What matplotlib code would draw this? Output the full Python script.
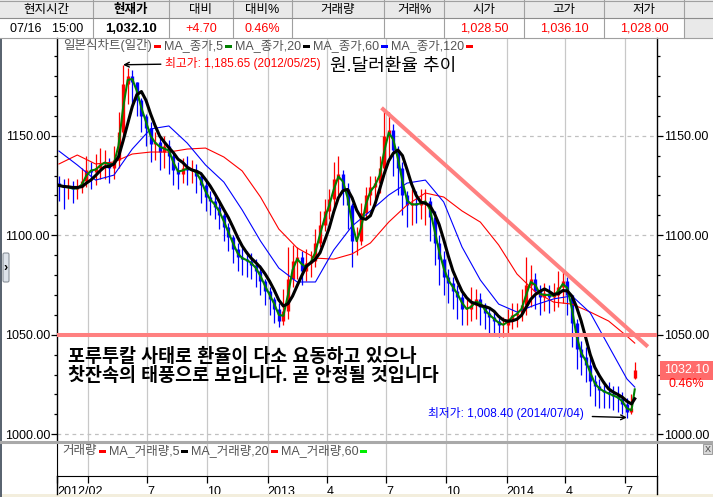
import matplotlib
matplotlib.use("Agg")
import matplotlib.pyplot as plt
import matplotlib.dates as mdates
from matplotlib.patches import Rectangle, FancyBboxPatch
from matplotlib.ticker import FormatStrFormatter
import pandas as pd

plt.rcParams['font.family'] = ['Liberation Sans', 'Noto Sans CJK KR']

W, H = 713, 497

# quote strip at the top
header_labels = ['현지시간', '현재가', '대비', '대비%', '거래량', '거래%', '시가', '고가', '저가', '']
header_values = ['07/16   15:00', '1,032.10', '+4.70', '0.46%', '', '', '1,028.50', '1,036.10', '1,028.00', '']
header_colors = ['black', 'black', 'red', 'red', 'black', 'black', 'red', 'red', 'red', 'black']
col_edges = [0, 93, 169, 233, 292, 384, 444, 524, 604, 684, 713]

day_open, day_high, day_low, last_price = 1028.50, 1036.10, 1028.00, 1032.10
last_date = '2014-07-16'
change_pct = 0.46

# weekly bars (Friday values), 2012-02-17 .. 2014-07-11
week_dates = pd.date_range('2012-02-17', '2014-07-11', freq='W-FRI')
first_open = 1126.0
week_close = [
    1125, 1124, 1124, 1123, 1124, 1127, 1133, 1132, 1134, 1136,
    1137, 1134, 1138, 1152, 1176, 1180, 1177, 1168, 1160, 1154,
    1146, 1147, 1142, 1145, 1140, 1133, 1131, 1134, 1133, 1133,
    1130, 1125, 1119, 1117, 1114, 1110, 1104, 1099, 1093, 1089,
    1088, 1087, 1085, 1082, 1077, 1072, 1068, 1063, 1057, 1062,
    1078, 1087, 1089, 1082, 1086, 1087, 1096, 1105, 1112, 1118,
    1128, 1131, 1123, 1115, 1097, 1097, 1111, 1120, 1124, 1126,
    1134, 1150, 1153, 1143, 1134, 1120, 1115, 1116, 1115, 1117,
    1117, 1109, 1096, 1088, 1079, 1076, 1072, 1069, 1063, 1063,
    1065, 1068, 1064, 1061, 1059, 1057, 1055, 1055, 1058, 1060,
    1061, 1065, 1075, 1078, 1072, 1069, 1071, 1069, 1070, 1074,
    1077, 1070, 1056, 1043, 1039, 1035, 1027, 1024, 1022, 1021,
    1020, 1019, 1018, 1015, 1011, 1013]
week_high = [
    1130, 1128, 1129, 1127, 1128, 1134, 1140, 1137, 1141, 1144,
    1143, 1139, 1145, 1162, 1185.65, 1184, 1183, 1177, 1169, 1161,
    1157, 1152, 1150, 1150, 1148, 1141, 1137, 1139, 1140, 1138,
    1136, 1131, 1127, 1122, 1120, 1116, 1111, 1106, 1100, 1096,
    1094, 1092, 1091, 1088, 1085, 1078, 1074, 1069, 1066, 1073,
    1094, 1095, 1094, 1092, 1093, 1092, 1103, 1112, 1118, 1123,
    1137, 1140, 1133, 1126, 1116, 1104, 1116, 1124, 1130, 1130,
    1140, 1163.5, 1162, 1156, 1145, 1137, 1122, 1123, 1122, 1123,
    1123, 1119, 1112, 1100, 1092, 1083, 1079, 1075, 1071, 1068,
    1074, 1073, 1071, 1066, 1064, 1062, 1060, 1059, 1063, 1066,
    1066, 1073, 1089, 1085, 1081, 1075, 1076, 1075, 1076, 1082,
    1082, 1079, 1070, 1058, 1047, 1044, 1039, 1030, 1028, 1027,
    1026, 1024, 1024, 1021, 1018, 1020]
week_low = [
    1117, 1113, 1118, 1116, 1118, 1121, 1124, 1123, 1125, 1128,
    1128, 1126, 1128, 1134, 1150, 1166, 1164, 1160, 1152, 1145,
    1137, 1138, 1133, 1134, 1131, 1125, 1123, 1126, 1125, 1126,
    1121, 1116, 1112, 1110, 1108, 1103, 1097, 1092, 1086, 1082,
    1080, 1079, 1078, 1074, 1070, 1065, 1060, 1056, 1054, 1055,
    1058, 1074, 1078, 1075, 1077, 1079, 1084, 1094, 1102, 1108,
    1113, 1120, 1115, 1103, 1084, 1090, 1095, 1108, 1115, 1118,
    1121, 1131, 1138, 1130, 1120, 1110, 1104, 1105, 1106, 1108,
    1105, 1097, 1085, 1075, 1070, 1066, 1063, 1058, 1055, 1055,
    1057, 1058, 1055, 1053, 1051, 1050, 1049, 1049, 1051, 1053,
    1054, 1057, 1060, 1064, 1063, 1060, 1062, 1061, 1062, 1064,
    1066, 1060, 1044, 1033, 1030, 1026, 1019, 1014, 1013, 1013,
    1013, 1012, 1011, 1010, 1008.4, 1010]

# 60 and 120 day averages at every 4th week plus the last day
ma60_read = [1142.3, 1135.3, 1127.7, 1130.2, 1143.3, 1153.4, 1154.9, 1146.3, 1135.3, 1126.7,
             1112.7, 1097.1, 1083.5, 1076.5, 1076.5, 1092.6, 1104.6, 1112.2, 1120.2, 1126.2,
             1127.7, 1116.7, 1094.1, 1077.5, 1065.4, 1061.4, 1065.0, 1068.0, 1069.5, 1061.0,
             1044.4, 1027.8, 1023.7]
ma120_read = [1135.8, 1140.3, 1135.8, 1136.8, 1140.8, 1141.8, 1141.8, 1143.3, 1143.8, 1139.3,
              1132.3, 1119.2, 1103.1, 1093.6, 1088.5, 1088.0, 1090.6, 1096.1, 1106.6, 1115.2,
              1121.2, 1119.2, 1112.2, 1106.6, 1095.1, 1080.5, 1071.5, 1066.4, 1065.4, 1061.4,
              1056.9, 1049.3, 1045.8]

x_range = ['2012-02-14', '2014-08-19']
month_ticks = ['2012-04-01', '2012-07-01', '2012-10-01', '2013-01-01', '2013-04-01', '2013-07-01',
               '2013-10-01', '2014-01-01', '2014-04-01', '2014-07-01']
month_labels = ['', '7', '10', '2013', '4', '7', '10', '2014', '4', '7']

# hand-drawn lines on the chart
trend_dates = ['2013-06-24', '2014-08-05']
trend_vals = [1164, 1044]
support_level = 1050

title_text = '원.달러환율 추이'
memo_lines = ['포루투칼 사태로 환율이 다소 요동하고 있으나',
              '찻잔속의 태풍으로 보입니다. 곧 안정될 것입니다']
legend_main = ['일본식차트(일간)', 'MA_종가,5', 'MA_종가,20', 'MA_종가,60', 'MA_종가,120']
legend_main_colors = ['#ff0000', '#008000', '#000000', '#0000ff', '#ff0000']
legend_vol = ['거래량', 'MA_거래량,5', 'MA_거래량,20', 'MA_거래량,60']
legend_vol_colors = ['#ff0000', '#000000', '#ff0000', '#00ee00']

# ---- assemble series ----
dates = list(week_dates) + [pd.Timestamp(last_date)]
closes = week_close + [last_price]
highs = week_high + [day_high]
lows = week_low + [day_low]
opens = [first_open] + week_close
opens[-1] = day_open
x = mdates.date2num(dates)
ma_x = list(x[:-1][::4]) + [x[-1]]

s = pd.Series(closes)
ma5 = s.rolling(2, min_periods=1).mean()
ma20 = s.rolling(5, min_periods=1).mean()

fig = plt.figure(figsize=(W / 100, H / 100), dpi=100)
fig.patch.set_facecolor('white')

xlim = mdates.date2num(pd.to_datetime(x_range))
tick_x = mdates.date2num(pd.to_datetime(month_ticks))

# ---- main price pane ----
ax = fig.add_axes([57 / W, 1 - 441 / H, 600 / W, 403 / H])
ax.set_xlim(*xlim)
ax.set_ylim(996.6, 1199.1)
ax.set_xticks(tick_x)
ax.tick_params(axis='x', length=0, labelbottom=False)
ax.set_yticks([1000, 1050, 1100, 1150])
ax.set_yticks(range(1000, 1200, 10), minor=True)
ax.yaxis.set_major_formatter(FormatStrFormatter('%.2f'))
ax.tick_params(axis='y', which='both', direction='out', left=True, right=True,
               labelleft=True, labelright=True, labelsize=9, pad=1, width=0.9)
ax.tick_params(axis='y', which='major', length=4)
ax.tick_params(axis='y', which='minor', length=2.5)
ax.grid(axis='x', color='#c8c8c8', lw=0.9)
ax.grid(axis='y', color='#c0c0c0', lw=0.9, ls=(0, (3, 3)))
ax.set_axisbelow(True)
for side in ['top', 'bottom']:
    ax.spines[side].set_visible(False)
for side in ['left', 'right']:
    ax.spines[side].set_linewidth(1.0)

colors = ['#ff0000' if c >= o else '#0000ff' for o, c in zip(opens, closes)]
ax.vlines(x, lows, highs, colors=colors, lw=0.9, zorder=2)
ax.vlines(x, opens, closes, colors=colors, lw=2.4, zorder=2)

ax.plot(ma_x, ma120_read, color='#ff0000', lw=0.8, zorder=3)
ax.plot(ma_x, ma60_read, color='#0000ff', lw=0.8, zorder=3)
ax.plot(x, ma5, color='#008000', lw=1.5, zorder=3.5)
ax.plot(x, ma20, color='black', lw=2.2, zorder=4)

ax.axhline(support_level, color='#ff8080', lw=2.9, zorder=5)
ax.plot(mdates.date2num(pd.to_datetime(trend_dates)), trend_vals, color='#ff8080', lw=2.9,
        zorder=5, solid_capstyle='butt')

i_max = max(range(len(highs)), key=lambda i: highs[i])
i_min = min(range(len(lows)), key=lambda i: lows[i])
ax.annotate(f"최고가: {highs[i_max]:,.2f} ({dates[i_max]:%Y/%m/%d})",
            xy=(x[i_max], highs[i_max]), xytext=(165, H - 63), textcoords='figure pixels',
            ha='left', va='center', color='red', fontsize=8.5,
            arrowprops=dict(arrowstyle='->', color='black', lw=1, shrinkA=1, shrinkB=0))
ax.annotate(f"최저가: {lows[i_min]:,.2f} ({dates[i_min]:%Y/%m/%d})",
            xy=(x[i_min], lows[i_min]), xytext=(584, H - 414), textcoords='figure pixels',
            ha='right', va='center', color='blue', fontsize=8.5,
            arrowprops=dict(arrowstyle='->', color='black', lw=1, shrinkA=4, shrinkB=0))

# current price box on the right axis
ytr = ax.get_yaxis_transform()
ax.annotate(f"{last_price:.2f}", xy=(1, last_price), xycoords=ytr, xytext=(7, 0),
            textcoords='offset pixels', ha='left', va='center', color='white', fontsize=9,
            bbox=dict(boxstyle='square,pad=0.3', fc='#ff6b6b', ec='none'))
ax.annotate(f"{change_pct:.2f}%", xy=(1, last_price), xycoords=ytr, xytext=(29, -14),
            textcoords='offset pixels', ha='center', va='center', color='red', fontsize=9)

# ---- volume pane (empty) with the date axis ----
vax = fig.add_axes([57 / W, 1 - 476 / H, 600 / W, 33 / H])
vax.set_xlim(*xlim)
vax.set_ylim(0, 1)
vax.set_yticks([])
vax.set_xticks([xlim[0]] + list(tick_x))
vax.set_xticklabels(['2012/02'] + month_labels)
vax.grid(axis='x', color='#c8c8c8', lw=0.9)
vax.tick_params(axis='x', direction='out', length=5, pad=2, labelsize=9, width=0.9)
for lab in vax.get_xticklabels():
    lab.set_ha('left')
vax.spines['top'].set_visible(False)

# ---- overlay in figure pixels: header, legends, frame bits ----
ov = fig.add_axes([0, 0, 1, 1])
ov.set_xlim(0, W)
ov.set_ylim(H, 0)
ov.axis('off')

ov.add_patch(Rectangle((0, 0), W, 18, fc='#e9e9e9', ec='none'))
ov.add_patch(Rectangle((col_edges[-2], 18), W - col_edges[-2], 20, fc='#e9e9e9', ec='none'))
for xe in col_edges[1:-1]:
    ov.plot([xe, xe], [0, 38], color='#a0a0a0', lw=0.8)
ov.plot([0, W], [0.5, 0.5], color='#a0a0a0', lw=0.8)
ov.plot([0, W], [18, 18], color='#8c8c8c', lw=0.8)
ov.plot([0, W], [38, 38], color='#a0a0a0', lw=0.8)
for i, (lab, val, col) in enumerate(zip(header_labels, header_values, header_colors)):
    cx = (col_edges[i] + col_edges[i + 1]) / 2
    bold = 'bold' if i == 1 else 'normal'
    ov.text(cx, 9.5, lab, ha='center', va='center', fontsize=9, weight=bold)
    ov.text(cx, 28.5, val, ha='center', va='center', fontsize=9.5 if i == 1 else 9,
            color=col, weight=bold)

renderer = fig.canvas.get_renderer()


def legend_row(items, marker_colors, x0, y):
    xc = x0
    for text, mc in zip(items, marker_colors):
        t = ov.text(xc, y, text, ha='left', va='center', fontsize=9, color='#555555')
        bb = t.get_window_extent(renderer)
        ov.add_patch(Rectangle((bb.x1 + 2, y - 1.5), 7, 3, fc=mc, ec='none'))
        xc = bb.x1 + 12


legend_row(legend_main, legend_main_colors, 63, 46)
legend_row(legend_vol, legend_vol_colors, 62, 451)

ov.text(330, 67, title_text, ha='left', va='center', fontsize=13)
for k, line in enumerate(memo_lines):
    ov.text(68, 357 + 19 * k, line, ha='left', va='center', fontsize=13.3, weight='bold')

ov.plot([0, W], [441.5, 441.5], color='#a9a9a9', lw=2.2)
for xe in (57, 657):
    ov.plot([xe, xe], [476, 494], color='black', lw=1.0)
ov.add_patch(Rectangle((0, 494), W, 3, fc='#f3eedd', ec='none'))
ov.add_patch(Rectangle((0, 38), 2, 459, fc='#5a6470', ec='none'))
ov.add_patch(FancyBboxPatch((3, 253), 6, 29, boxstyle='round,pad=0,rounding_size=1.5',
                            fc='#dde3ea', ec='#8a929a', lw=0.8))
ov.text(6, 268, '›', ha='center', va='center', fontsize=9, weight='bold')
ov.add_patch(Rectangle((703, 444), 9, 10, fc='#d8d8d8', ec='#909090', lw=0.6))
ov.text(707.5, 449, 'X', ha='center', va='center', fontsize=6.5, color='#404040')

fig.savefig('out.png', dpi=100)
